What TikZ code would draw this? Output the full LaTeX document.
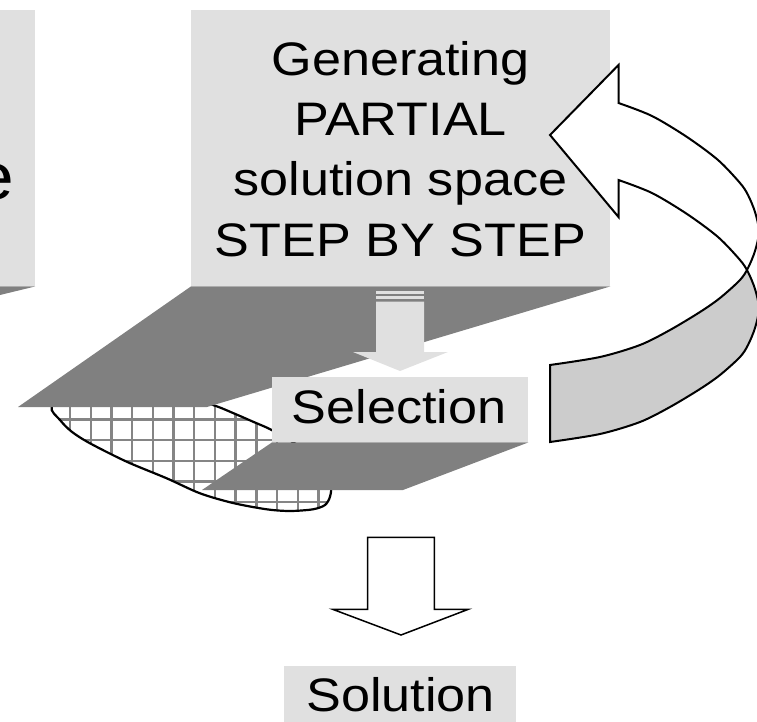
\documentclass[tikz,border=0pt]{standalone}
\usepackage{fontspec}
\newfontfamily\boxfont[FakeStretch=1.11]{Liberation Sans}
\definecolor{boxgray}{gray}{0.88}
\definecolor{shadowgray}{gray}{0.5}
\definecolor{bandgray}{gray}{0.8}
\definecolor{gridgray}{gray}{0.52}
\begin{document}
\begin{tikzpicture}[x=1pt,y=-1pt,
  lightbox/.style={fill=boxgray, inner sep=0pt, anchor=north west},
  label45/.style={font=\boxfont\fontsize{47}{56}\selectfont, inner sep=0pt, anchor=base},
  darkside/.style={fill=shadowgray},
  outline/.style={draw=black, line width=2pt, line join=miter},
  gridline/.style={draw=gridgray, line width=2.4pt},
]
\useasboundingbox (0,0) rectangle (757,722);

% hatched region of the solution space
\path[save path=\lobepath] plot[smooth cycle] coordinates {
  (51.7,406.7) (60,420) (71.7,431.7) (90,443.3) (126.7,461.7) (166.7,478.3)
  (200,493.3) (233,503) (266.7,509.3) (290,511) (313,509.3) (325,505)
  (330,496.7) (331,485) (325,468) (305,450) (273,430.7) (253,421.7)
  (233,413) (213,405) (170,392) (120,385) (75,388)};
\fill[white, use path=\lobepath];
\begin{scope}
  \clip[use path=\lobepath];
  \foreach \k in {-3,...,14}
    \draw[gridline] ({70+20.7*\k},360) -- ({70+20.7*\k},530);
  \foreach \k in {-3,...,5}
    \draw[gridline] (30,{419.3+20.7*\k}) -- (345,{419.3+20.7*\k});
\end{scope}
\draw[line width=2.2pt, use path=\lobepath];

% boxes
\node[lightbox, minimum width=35pt, minimum height=276pt] (leftbox) at (0,10) {};
\node[lightbox, minimum width=419pt, minimum height=276pt] (genbox) at (191,10) {};

% extruded undersides
\fill[darkside] (genbox.south west) -- (genbox.south east) -- (207,407) -- (18,407) -- cycle;
\fill[darkside] (leftbox.south west) -- (leftbox.south east) -- (0,295) -- cycle;

% striped arrow from the generator to the selection
\fill[boxgray] (376,290.5) rectangle (424,293.5);
\fill[boxgray] (376,295.5) rectangle (424,299);
\fill[boxgray] (376,301.5) -- (424,301.5) -- (424,352) -- (448,352) -- (400,371)
  -- (353,352) -- (376,352) -- cycle;

% selection box with its underside
\node[lightbox, minimum width=256pt, minimum height=65pt] (selbox) at (272,377) {};
\fill[darkside] (selbox.south west) -- (selbox.south east) -- (403,490) -- (202,490) -- cycle;

% texts
\node[font=\boxfont\fontsize{66}{72}\selectfont, inner sep=0pt, anchor=base west]
  (lefttext) at (-27,199.5) {e};
\node[label45] (gen1) at (400.5,75.5) {Generating};
\node[label45] (gen2) at (400.5,135.5) {PARTIAL};
\node[label45] (gen3) at (400.5,196) {solution space};
\node[label45] (gen4) at (400.5,256.2) {STEP BY STEP};
\node[label45] (seltext) at (399,423.3) {Selection};

% curved return arrow (twisted band)
\path[save path=\looppath] (618.5,103) -- (618.5,65) -- (550,135) -- (618.5,217) -- (618.5,180)
  -- plot[smooth] coordinates {(618.5,180) (652,193) (687,214) (718,237) (740,260)
     (748,272) (755,289) (759,308.5) (755,328) (748,345) (740,357) (720,375)
     (700,389) (670,407) (640,422) (600,434) (550,442)}
  -- (550,365)
  -- plot[smooth] coordinates {(550,365) (600,357) (640,345) (670,330) (700,312)
     (720,298) (740,280) (748,268) (755,251) (759,231.5) (755,212) (748,195)
     (740,183) (718,160) (687,137) (652,116) (618.5,103)}
  -- cycle;
\fill[white, use path=\looppath];
\begin{scope}
  \clip (540,270) rectangle (800,470);
  \fill[bandgray, use path=\looppath];
\end{scope}
\draw[outline, use path=\looppath];

% hollow arrow down to the solution
\draw[line width=1.5pt, fill=white, line join=miter]
  (367.7,537.3) -- (434.3,537.3) -- (434.3,609.3) -- (468.3,609.3) -- (401,635)
  -- (332.7,609.3) -- (367.7,609.3) -- cycle;

\node[lightbox, minimum width=232pt, minimum height=57pt] (solbox) at (284,666) {};
\node[label45] (soltext) at (400.5,711.7) {Solution};
\end{tikzpicture}
\end{document}
